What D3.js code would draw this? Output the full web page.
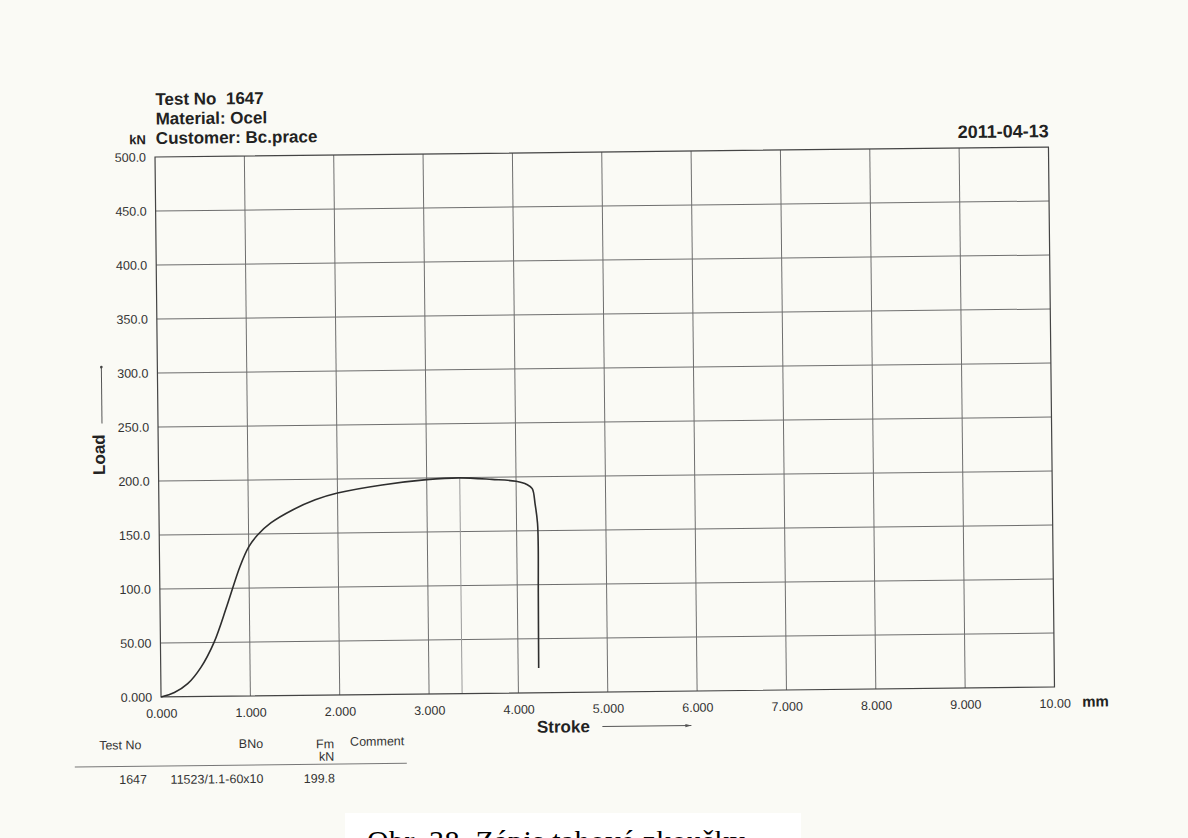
<!DOCTYPE html>
<html><head><meta charset="utf-8">
<script src="https://cdn.jsdelivr.net/npm/d3@7"></script>
<style>html,body{margin:0;padding:0;background:#fafaf5;} svg{display:block;}</style>
</head><body>
<script>
// ---- data ----
const xTicks = [0,1,2,3,4,5,6,7,8,9,10];
const xTickLabels = ["0.000","1.000","2.000","3.000","4.000","5.000","6.000","7.000","8.000","9.000","10.00"];
const yTicks = [0,50,100,150,200,250,300,350,400,450,500];
const yTickLabels = ["0.000","50.00","100.0","150.0","200.0","250.0","300.0","350.0","400.0","450.0","500.0"];
const strokeMm = [0,0.15,0.30,0.45,0.60,0.75,0.90,1.00,1.10,1.25,1.50,1.75,2.00,2.50,3.00,3.36,3.73,4.00,4.12,4.18,4.21,4.235,4.24,4.235,4.23];
const loadKN   = [0,4,12,27,50,84,120,138,149,160,172,181,187,194,198.5,199.8,198,196,193,189,175,157,136,93,23];
const fmStroke = 3.37;
const fmValue = 199.8;
const headerLines = ["Test No  1647","Material: Ocel","Customer: Bc.prace"];
const dateText = "2011-04-13";
const tableHeader = ["Test No","BNo","Fm","kN","Comment"];
const tableRow = ["1647","11523/1.1-60x10","199.8"];
const caption = "Obr. 38  Zápis tahové zkoušky";

// ---- drawing ----
const W = 1188, H = 838;
const svg = d3.select("body").append("svg").attr("width",W).attr("height",H);
svg.append("rect").attr("width",W).attr("height",H).attr("fill","#fafaf5");

const g = svg.append("g").attr("transform","rotate(-0.64 604.5 422)");
const sans = "'Liberation Sans', Arial, sans-serif";

const x = d3.scaleLinear().domain([0,10]).range([158,1051.5]);
const y = d3.scaleLinear().domain([0,500]).range([692,152]);

// grid
g.append("g").selectAll("line").data(xTicks.slice(1,-1)).join("line")
  .attr("x1",d=>x(d)).attr("x2",d=>x(d)).attr("y1",y(0)).attr("y2",y(500))
  .attr("stroke","#6e6e6e").attr("stroke-width",1);
g.append("g").selectAll("line").data(yTicks.slice(1,-1)).join("line")
  .attr("x1",x(0)).attr("x2",x(10)).attr("y1",d=>y(d)).attr("y2",d=>y(d))
  .attr("stroke","#6e6e6e").attr("stroke-width",1);
// Fm marker line
g.append("line").attr("x1",x(fmStroke)).attr("x2",x(fmStroke)).attr("y1",y(fmValue)).attr("y2",y(0))
  .attr("stroke","#9a9a9a").attr("stroke-width",1);
// frame
g.append("rect").attr("x",x(0)).attr("y",y(500)).attr("width",x(10)-x(0)).attr("height",y(0)-y(500))
  .attr("fill","none").attr("stroke","#444").attr("stroke-width",1.2);

// axes labels
const ax = g.append("g").attr("transform",`translate(0,${y(0)})`)
  .call(d3.axisBottom(x).tickValues(xTicks).tickFormat((d,i)=>xTickLabels[i]).tickSize(0).tickPadding(12));
ax.select(".domain").remove();
ax.selectAll("text").attr("font-family",sans).attr("font-size",12.5).attr("fill","#333");

const ay = g.append("g").attr("transform",`translate(${x(0)},0)`)
  .call(d3.axisLeft(y).tickValues(yTicks).tickFormat((d,i)=>yTickLabels[i]).tickSize(0).tickPadding(9));
ay.select(".domain").remove();
ay.selectAll("text").attr("font-family",sans).attr("font-size",12.5).attr("fill","#333");

// curve
const pts = strokeMm.map((s,i)=>[s,loadKN[i]]);
g.append("path").datum(pts)
  .attr("d",d3.line().x(d=>x(d[0])).y(d=>y(d[1])).curve(d3.curveCatmullRom.alpha(0.5)))
  .attr("fill","none").attr("stroke","#2e2e2e").attr("stroke-width",1.6);

// header
g.append("g").selectAll("text").data(headerLines).join("text")
  .attr("x",159).attr("y",(d,i)=>100+i*19.5)
  .attr("font-family",sans).attr("font-size",17).attr("font-weight","bold").attr("fill","#222")
  .attr("xml:space","preserve").style("white-space","pre").text(d=>d);
g.append("text").attr("x",149).attr("y",139).attr("text-anchor","end")
  .attr("font-family",sans).attr("font-size",13).attr("font-weight","bold").attr("fill","#222").text("kN");
g.append("text").attr("x",1052).attr("y",142).attr("text-anchor","end")
  .attr("font-family",sans).attr("font-size",18).attr("font-weight","bold").attr("fill","#222").text(dateText);

// axis titles
g.append("text").attr("x",533.5).attr("y",732)
  .attr("font-family",sans).attr("font-size",17).attr("font-weight","bold").attr("fill","#222").text("Stroke");
g.append("line").attr("x1",599).attr("x2",688).attr("y1",726.5).attr("y2",726.5).attr("stroke","#555").attr("stroke-width",1);
g.append("path").attr("d","M688,726.5 l-6,-1.6 l0,3.2 z").attr("fill","#555");
g.append("text").attr("x",1079).attr("y",712)
  .attr("font-family",sans).attr("font-size",15).attr("font-weight","bold").attr("fill","#222").text("mm");
g.append("text").attr("transform","translate(104.5,449) rotate(-90)").attr("text-anchor","middle")
  .attr("font-family",sans).attr("font-size",17).attr("font-weight","bold").attr("fill","#222").text("Load");
g.append("line").attr("x1",102).attr("x2",102).attr("y1",418).attr("y2",362).attr("stroke","#555").attr("stroke-width",1);
g.append("circle").attr("cx",102).attr("cy",361.5).attr("r",1.3).attr("fill","#444");

// table
function t(txt,xx,yy,anchor){
  g.append("text").attr("x",xx).attr("y",yy).attr("text-anchor",anchor||"start")
   .attr("font-family",sans).attr("font-size",12.5).attr("fill","#333").text(txt);
}
t(tableHeader[0],95.5,744);
t(tableHeader[1],259.5,744,"end");
t(tableHeader[2],330.5,745,"end");
t(tableHeader[3],330.5,757.5,"end");
t(tableHeader[4],346.5,743);
g.append("line").attr("x1",71).attr("x2",403).attr("y1",761).attr("y2",761).attr("stroke","#777").attr("stroke-width",1);
t(tableRow[0],143,778.5,"end");
t(tableRow[1],259.5,779,"end");
t(tableRow[2],331,779.5,"end");

// caption (document text, partially cut off at the bottom edge as in the reference)
svg.append("rect").attr("x",345).attr("y",813).attr("width",456).attr("height",30).attr("fill","#ffffff");
svg.append("text").attr("x",367).attr("y",851)
  .attr("font-family","'Liberation Serif','Times New Roman',serif").attr("font-size",30).attr("fill","#000")
  .attr("letter-spacing",0.4)
  .attr("xml:space","preserve").style("white-space","pre").text(caption);
</script>
</body></html>
